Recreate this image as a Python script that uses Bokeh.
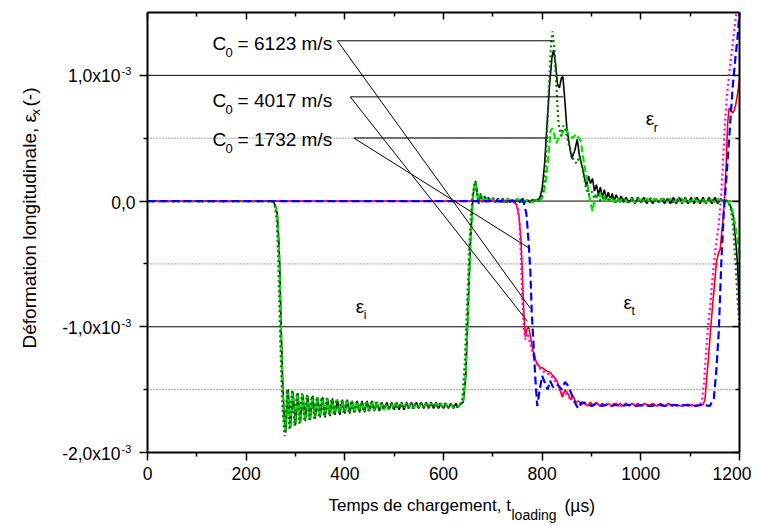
import math
from bokeh.plotting import figure
from bokeh.models import LinearAxis, FixedTicker, Label, ColumnDataSource, Range1d
from bokeh.embed import file_html
from bokeh.resources import INLINE

FONT = "Liberation Sans"

# ---------------- data (strain in units of 1e-3, time in microseconds) -------------
x_ticks = [0, 200, 400, 600, 800, 1000, 1200]
x_minor = [100, 300, 500, 700, 900, 1100]
y_ticks = [-2, -1, 0, 1]
y_minor = [-1.5, -0.5, 0.5]
y_tick_main = ["-2,0x10", "-1,0x10", "0,0", "1,0x10"]
y_tick_exp = ["-3", "-3", "", "-3"]
x_lim = (0, 1200)
y_lim = (-2, 1.5)

# incident + reflected, C0 = 4017 m/s (black solid)
black = [(0,0.00),(100,0.00),(200,0.00),(250,0.00),(256,-0.01),(260,-0.05),(263,-0.10),(266,-0.30),(268,-0.50),(271,-1.01),(274,-1.43),(277,-1.70),(280,-1.84),(285,-1.50),(290,-1.80),(295,-1.52),(300,-1.78),(305,-1.53),(310,-1.76),(315,-1.54),(320,-1.75),(325,-1.55),(330,-1.74),(335,-1.55),(340,-1.73),(345,-1.56),(350,-1.72),(355,-1.56),(360,-1.72),(365,-1.57),(370,-1.71),(375,-1.57),(380,-1.70),(385,-1.58),(390,-1.70),(395,-1.58),(400,-1.69),(405,-1.58),(410,-1.69),(415,-1.59),(420,-1.68),(425,-1.59),(430,-1.68),(435,-1.59),(440,-1.68),(445,-1.59),(450,-1.67),(455,-1.59),(460,-1.67),(465,-1.60),(470,-1.67),(475,-1.60),(480,-1.66),(485,-1.60),(490,-1.66),(495,-1.60),(500,-1.66),(505,-1.60),(510,-1.66),(515,-1.60),(520,-1.66),(525,-1.60),(530,-1.65),(535,-1.60),(540,-1.65),(545,-1.60),(550,-1.65),(555,-1.60),(560,-1.65),(565,-1.60),(570,-1.65),(575,-1.60),(580,-1.65),(585,-1.60),(590,-1.65),(595,-1.61),(600,-1.65),(605,-1.61),(610,-1.65),(615,-1.61),(620,-1.65),(625,-1.61),(630,-1.64),(635,-1.61),(640,-1.60),(645,-1.40),(650,-0.85),(655,-0.30),(660,0.05),(665,0.16),(668,0.08),(671,-0.02),(675,0.06),(679,-0.01),(683,0.04),(687,-0.01),(691,0.03),(695,0.00),(700,0.02),(705,-0.01),(710,0.02),(715,-0.01),(720,0.02),(725,-0.01),(730,0.02),(735,-0.01),(740,0.01),(745,-0.01),(750,0.01),(755,-0.01),(760,0.02),(765,-0.01),(770,0.01),(775,-0.01),(780,0.01),(785,0.00),(790,0.01),(795,0.02),(800,0.10),(805,0.30),(810,0.62),(815,0.92),(820,1.15),(823,1.20),(827,1.10),(831,0.93),(835,0.90),(839,0.98),(842,0.99),(846,0.80),(850,0.58),(855,0.45),(860,0.34),(866,0.40),(871,0.49),(876,0.35),(882,0.26),(886,0.18),(890,0.12),(894,0.20),(898,0.14),(902,0.18),(906,0.08),(910,0.13),(914,0.05),(918,0.11),(922,0.03),(926,0.09),(930,0.02),(934,0.07),(938,0.01),(942,0.06),(946,0.00),(950,0.05),(955,0.00),(960,0.04),(965,-0.01),(970,0.03),(976,-0.01),(982,0.03),(988,-0.02),(994,0.03),(1000,-0.01),(1006,0.03),(1012,-0.02),(1018,0.02),(1024,-0.02),(1030,0.02),(1036,-0.01),(1042,0.02),(1048,-0.02),(1054,0.02),(1060,-0.02),(1066,0.03),(1072,-0.02),(1078,0.03),(1084,-0.02),(1090,0.03),(1096,-0.02),(1102,0.03),(1108,-0.02),(1114,0.03),(1120,-0.02),(1126,0.03),(1132,-0.02),(1138,0.03),(1144,-0.02),(1150,0.03),(1156,-0.02),(1162,0.02),(1168,-0.01),(1175,0.00),(1182,-0.04),(1188,-0.13),(1192,-0.30),(1196,-0.50),(1200,-0.90)]

# incident + reflected, C0 = 1732 m/s (light green dashed)
lime = [(0,0.00),(200,0.00),(255,0.00),(259,-0.03),(263,-0.12),(267,-0.45),(270,-0.95),(273,-1.40),(276,-1.72),(279,-1.82),(284,-1.52),(289,-1.80),(294,-1.51),(299,-1.77),(304,-1.53),(309,-1.76),(314,-1.54),(319,-1.74),(324,-1.55),(329,-1.74),(334,-1.56),(339,-1.72),(344,-1.56),(349,-1.71),(354,-1.57),(359,-1.71),(364,-1.57),(369,-1.70),(374,-1.58),(379,-1.69),(384,-1.58),(389,-1.69),(394,-1.59),(399,-1.68),(404,-1.59),(409,-1.68),(414,-1.59),(419,-1.68),(424,-1.60),(429,-1.67),(434,-1.60),(439,-1.67),(444,-1.60),(449,-1.67),(454,-1.60),(459,-1.66),(464,-1.60),(469,-1.66),(474,-1.61),(479,-1.66),(484,-1.61),(489,-1.66),(494,-1.61),(499,-1.65),(504,-1.61),(509,-1.65),(514,-1.61),(519,-1.65),(524,-1.61),(529,-1.65),(534,-1.61),(539,-1.65),(544,-1.61),(549,-1.64),(554,-1.61),(559,-1.64),(564,-1.61),(569,-1.64),(574,-1.61),(579,-1.64),(584,-1.61),(589,-1.64),(594,-1.61),(599,-1.64),(604,-1.61),(609,-1.64),(614,-1.61),(619,-1.64),(624,-1.62),(629,-1.64),(634,-1.62),(639,-1.61),(644,-1.45),(649,-0.95),(654,-0.40),(659,0.00),(664,0.15),(667,0.10),(670,0.00),(674,0.05),(678,0.00),(682,0.04),(686,0.00),(690,0.03),(695,0.00),(700,0.02),(710,0.01),(720,-0.01),(730,0.02),(740,-0.01),(750,0.02),(760,-0.01),(770,0.01),(780,-0.01),(790,0.01),(797,0.00),(802,0.05),(806,0.12),(810,0.25),(814,0.42),(817,0.56),(821,0.58),(825,0.52),(829,0.46),(833,0.50),(837,0.50),(842,0.55),(847,0.58),(852,0.54),(857,0.52),(862,0.50),(868,0.53),(873,0.51),(878,0.48),(884,0.32),(891,0.16),(897,0.00),(902,-0.08),(908,0.05),(913,0.02),(918,0.06),(923,0.00),(928,0.04),(934,0.00),(940,0.03),(946,-0.01),(952,0.03),(958,-0.01),(965,0.02),(972,-0.01),(980,0.02),(988,-0.01),(996,0.02),(1004,-0.01),(1012,0.02),(1020,-0.01),(1028,0.02),(1036,-0.01),(1044,0.02),(1052,-0.01),(1060,0.02),(1068,-0.01),(1076,0.02),(1084,-0.01),(1092,0.02),(1100,-0.01),(1108,0.02),(1116,-0.01),(1124,0.02),(1132,-0.01),(1140,0.02),(1148,-0.01),(1156,0.02),(1164,0.00),(1172,0.01),(1180,-0.02),(1186,-0.08),(1192,-0.20),(1198,-0.37),(1200,-0.42)]

# incident + reflected, C0 = 6123 m/s (dark green dotted)
dkgreen = [(0,0.00),(200,0.00),(254,0.00),(258,-0.04),(262,-0.15),(265,-0.45),(268,-0.95),(271,-1.35),(274,-1.68),(278,-1.87),(283,-1.50),(288,-1.82),(293,-1.50),(298,-1.79),(303,-1.52),(308,-1.77),(313,-1.53),(318,-1.75),(323,-1.54),(328,-1.74),(333,-1.55),(338,-1.73),(343,-1.56),(348,-1.72),(353,-1.56),(358,-1.71),(363,-1.57),(368,-1.70),(373,-1.58),(378,-1.70),(383,-1.58),(388,-1.69),(393,-1.59),(398,-1.69),(403,-1.59),(408,-1.68),(413,-1.59),(418,-1.68),(423,-1.60),(428,-1.67),(433,-1.60),(438,-1.67),(443,-1.60),(448,-1.67),(453,-1.60),(458,-1.66),(463,-1.60),(468,-1.66),(473,-1.61),(478,-1.66),(483,-1.61),(488,-1.65),(493,-1.61),(498,-1.65),(503,-1.61),(508,-1.65),(513,-1.61),(518,-1.65),(523,-1.61),(528,-1.65),(533,-1.61),(538,-1.65),(543,-1.61),(548,-1.64),(553,-1.61),(558,-1.64),(563,-1.61),(568,-1.64),(573,-1.61),(578,-1.64),(583,-1.61),(588,-1.64),(593,-1.61),(598,-1.64),(603,-1.61),(608,-1.64),(613,-1.61),(618,-1.64),(623,-1.62),(628,-1.64),(633,-1.62),(638,-1.58),(643,-1.30),(648,-0.80),(653,-0.30),(658,0.02),(663,0.15),(667,0.08),(671,-0.02),(675,0.05),(680,0.00),(685,0.03),(690,0.00),(700,0.02),(710,0.00),(720,0.01),(730,-0.01),(740,0.01),(750,0.00),(760,0.01),(770,-0.01),(780,0.01),(790,0.00),(798,0.02),(803,0.10),(807,0.30),(810,0.55),(814,0.95),(818,1.25),(821,1.35),(825,1.20),(829,0.90),(833,0.62),(838,0.52),(843,0.60),(848,0.56),(853,0.46),(858,0.40),(864,0.32),(870,0.30),(876,0.36),(882,0.25),(888,0.12),(894,0.05),(900,0.08),(906,0.02),(912,0.06),(918,0.00),(925,0.04),(932,0.00),(940,0.03),(950,-0.01),(960,0.02),(975,-0.01),(990,0.02),(1005,-0.01),(1020,0.02),(1035,-0.01),(1050,0.02),(1065,-0.01),(1080,0.02),(1095,-0.01),(1110,0.02),(1125,-0.01),(1140,0.02),(1155,-0.01),(1168,0.01),(1176,0.00),(1182,-0.05),(1187,-0.20),(1192,-0.50),(1196,-0.78),(1200,-1.00)]

# transmitted, red solid
red = [(0,0.00),(200,0.00),(400,0.00),(600,0.00),(700,0.00),(740,0.00),(748,-0.03),(753,-0.12),(757,-0.30),(760,-0.60),(763,-0.90),(766,-1.08),(769,-1.02),(773,-1.00),(777,-1.10),(782,-1.20),(788,-1.28),(795,-1.32),(802,-1.33),(808,-1.35),(815,-1.36),(822,-1.39),(830,-1.43),(836,-1.50),(841,-1.56),(846,-1.50),(852,-1.53),(858,-1.58),(863,-1.55),(868,-1.60),(874,-1.59),(880,-1.62),(886,-1.60),(892,-1.63),(898,-1.60),(904,-1.63),(910,-1.60),(916,-1.63),(922,-1.61),(928,-1.63),(934,-1.61),(940,-1.63),(946,-1.61),(952,-1.63),(958,-1.61),(964,-1.63),(970,-1.61),(976,-1.63),(982,-1.61),(988,-1.63),(994,-1.61),(1000,-1.63),(1008,-1.61),(1016,-1.63),(1024,-1.61),(1032,-1.63),(1040,-1.61),(1048,-1.63),(1056,-1.61),(1064,-1.63),(1072,-1.62),(1080,-1.63),(1088,-1.62),(1096,-1.63),(1104,-1.62),(1112,-1.63),(1120,-1.62),(1126,-1.62),(1130,-1.58),(1133,-1.43),(1137,-1.25),(1141,-1.04),(1145,-0.85),(1148,-0.72),(1153,-0.49),(1157,-0.42),(1161,-0.38),(1164,-0.25),(1167,-0.13),(1170,0.05),(1173,0.30),(1176,0.62),(1179,0.74),(1183,0.72),(1186,0.70),(1189,0.72),(1192,0.76),(1196,0.85),(1200,0.97)]

# transmitted, magenta dotted
magenta = [(0,0.00),(200,0.00),(400,0.00),(600,0.00),(700,0.00),(744,0.00),(750,-0.04),(754,-0.18),(757,-0.45),(760,-0.80),(763,-1.02),(766,-1.10),(770,-1.05),(775,-1.12),(780,-1.20),(786,-1.27),(793,-1.32),(800,-1.35),(808,-1.37),(816,-1.38),(824,-1.42),(832,-1.47),(838,-1.53),(844,-1.52),(850,-1.54),(856,-1.57),(862,-1.56),(868,-1.60),(875,-1.60),(882,-1.62),(890,-1.61),(900,-1.63),(910,-1.61),(920,-1.63),(930,-1.61),(940,-1.63),(950,-1.61),(960,-1.63),(970,-1.61),(980,-1.63),(990,-1.61),(1000,-1.63),(1010,-1.62),(1020,-1.63),(1030,-1.62),(1040,-1.63),(1050,-1.62),(1060,-1.63),(1070,-1.62),(1080,-1.63),(1090,-1.62),(1100,-1.63),(1110,-1.62),(1120,-1.62),(1124,-1.58),(1128,-1.45),(1132,-1.22),(1136,-1.00),(1141,-0.82),(1146,-0.58),(1152,-0.36),(1158,-0.18),(1163,0.05),(1167,0.35),(1171,0.65),(1176,0.90),(1181,1.08),(1186,1.25),(1190,1.38),(1194,1.50)]

# transmitted, blue dashed
blue = [(0,0.00),(200,0.00),(400,0.00),(600,0.00),(700,0.00),(762,0.00),(768,-0.10),(772,-0.30),(776,-0.55),(779,-0.90),(782,-1.10),(786,-1.40),(790,-1.63),(795,-1.50),(800,-1.39),(806,-1.45),(811,-1.50),(816,-1.43),(822,-1.48),(831,-1.46),(840,-1.50),(846,-1.44),(851,-1.46),(858,-1.52),(866,-1.60),(873,-1.65),(880,-1.60),(891,-1.61),(900,-1.63),(910,-1.61),(920,-1.63),(930,-1.62),(940,-1.63),(950,-1.62),(960,-1.63),(975,-1.62),(990,-1.63),(1005,-1.62),(1020,-1.63),(1035,-1.62),(1050,-1.63),(1065,-1.62),(1080,-1.63),(1095,-1.62),(1110,-1.63),(1125,-1.62),(1140,-1.63),(1148,-1.57),(1153,-1.35),(1158,-1.04),(1163,-0.50),(1168,-0.10),(1173,0.16),(1180,0.55),(1186,0.90),(1192,1.15),(1196,1.30),(1200,1.50)]

# annotations: wave speeds and pointer anchors (data coordinates)
speeds = ["6123", "4017", "1732"]
speed_text_t = [132, 132, 132]
speed_text_y = [1.195, 0.741, 0.438]
anchor_t = [385, 411, 418]
anchor_y = [1.275, 0.829, 0.502]
refl_t = [821, 843, 813]
trans_t = [776, 770, 776]
trans_y = [-0.853, -0.956, -0.38]

wave_sub = ["i", "r", "t"]
wave_t = [422, 1010, 965]
wave_y = [-0.892, 0.598, -0.861]

# ---------------- layout geometry (canvas pixels) -------------
W, H = 751, 524
FL, FR, FT, FB = 147, 739, 12, 452          # plotting box inside the canvas
kx = (x_lim[1] - x_lim[0]) / (FR - FL)
ky = (y_lim[1] - y_lim[0]) / (FB - FT)
xr = Range1d(x_lim[0] - FL * kx, x_lim[1] + (W - FR) * kx)
yr_ = Range1d(y_lim[0] - (H - FB) * ky, y_lim[1] + FT * ky)

p = figure(width=W, height=H, x_range=xr, y_range=yr_,
           output_backend="svg", toolbar_location=None,
           x_axis_location=None, y_axis_location=None, min_border=0)
p.outline_line_color = None
p.background_fill_color = "white"
p.border_fill_color = "white"
p.xgrid.visible = False
p.ygrid.visible = False

def style_axis(ax, labels=True, out=True):
    ax.axis_line_width = 2
    ax.axis_line_color = "black"
    ax.major_tick_line_width = 1.5
    ax.minor_tick_line_width = 1.5
    ax.major_tick_line_color = "black"
    ax.minor_tick_line_color = "black"
    if out:
        ax.major_tick_out, ax.major_tick_in = 8, 0
        ax.minor_tick_out, ax.minor_tick_in = 4, 0
    else:
        ax.major_tick_out, ax.major_tick_in = 0, 7
        ax.minor_tick_out, ax.minor_tick_in = 0, 4
    ax.major_label_text_font = FONT
    ax.major_label_text_font_size = "17.5px"
    ax.major_label_text_color = "black"
    if not labels:
        ax.major_label_overrides = {t: "" for t in ax.ticker.ticks}

xb = LinearAxis(ticker=FixedTicker(ticks=x_ticks, minor_ticks=x_minor), fixed_location=y_lim[0], bounds=x_lim)
style_axis(xb)
xb.major_label_standoff = 6
p.add_layout(xb, "below")
xt = LinearAxis(ticker=FixedTicker(ticks=x_ticks, minor_ticks=x_minor), fixed_location=y_lim[1], bounds=x_lim)
style_axis(xt, labels=False, out=False)
p.add_layout(xt, "above")
yl = LinearAxis(ticker=FixedTicker(ticks=y_ticks, minor_ticks=y_minor), fixed_location=x_lim[0], bounds=y_lim)
style_axis(yl, labels=False, out=True)
p.add_layout(yl, "left")
yrr = LinearAxis(ticker=FixedTicker(ticks=y_ticks, minor_ticks=y_minor), fixed_location=x_lim[1], bounds=y_lim)
style_axis(yrr, labels=False, out=False)
p.add_layout(yrr, "right")

# horizontal grid lines at the y ticks (inside the plotting box)
gmaj = [t for t in y_ticks if y_lim[0] < t < y_lim[1]]
p.segment(x0=[x_lim[0]] * len(gmaj), x1=[x_lim[1]] * len(gmaj), y0=gmaj, y1=gmaj,
          line_color="black", line_width=1, level="underlay")
p.segment(x0=[x_lim[0]] * len(y_minor), x1=[x_lim[1]] * len(y_minor), y0=y_minor, y1=y_minor,
          line_color="#444444", line_width=1, line_dash="1 2", level="underlay")

def src(pairs):
    return ColumnDataSource(dict(t=[a for a, b in pairs], v=[b for a, b in pairs]))

p.line("t", "v", source=src(black), line_color="black", line_width=1.6)
p.line("t", "v", source=src(lime), line_color="#00e600", line_width=2.2, line_dash="7 3")
p.line("t", "v", source=src(dkgreen), line_color="#008000", line_width=2.2, line_dash="2 3")
p.line("t", "v", source=src(red), line_color="#ff0000", line_width=1.6)
p.line("t", "v", source=src(magenta), line_color="#ff00ff", line_width=2.2, line_dash="2 3")
p.line("t", "v", source=src(blue), line_color="#0000ff", line_width=2.2, line_dash="8 4")

# pointer lines
p.segment(x0=anchor_t, y0=anchor_y, x1=refl_t, y1=anchor_y, line_color="black", line_width=1)
p.segment(x0=anchor_t, y0=anchor_y, x1=trans_t, y1=trans_y, line_color="black", line_width=1)

def lab(**kw):
    base = dict(text_font=FONT, text_color="black", text_baseline="middle")
    base.update(kw)
    p.add_layout(Label(**base))

# texts are anchored on their vertical middle; offsets place the letter baselines
for s, tt, yy in zip(speeds, speed_text_t, speed_text_y):
    lab(x=tt, y=yy, text="C", text_font_size="19px", y_offset=7)
    lab(x=tt, y=yy, text="0", text_font_size="13px", x_offset=13, y_offset=-2)
    lab(x=tt, y=yy, text="= " + s + " m/s", text_font_size="19px", x_offset=25, y_offset=7)

for s, tt, yy in zip(wave_sub, wave_t, wave_y):
    lab(x=tt, y=yy, text="\u03b5", text_font_size="19px", y_offset=7)
    lab(x=tt, y=yy, text=s, text_font_size="12px", x_offset=8, y_offset=-2)

# y tick labels with superscript exponent (x in canvas pixels)
for tk, m, e in zip(y_ticks, y_tick_main, y_tick_exp):
    if e:
        lab(x=120, y=tk, x_units="screen", text=m, text_font_size="17.5px",
            text_align="right", y_offset=-1)
        lab(x=121, y=tk, x_units="screen", text=e, text_font_size="11px",
            text_align="left", y_offset=4)
    else:
        lab(x=135, y=tk, x_units="screen", text=m, text_font_size="17.5px",
            text_align="right", y_offset=-1)

# x axis title with subscript (canvas pixels, y measured from the bottom)
lab(x=328, y=H - 505, x_units="screen", y_units="screen", text="Temps de chargement, t",
    text_font_size="17px")
lab(x=511, y=H - 514, x_units="screen", y_units="screen", text="loading",
    text_font_size="14px")
lab(x=564, y=H - 505, x_units="screen", y_units="screen", text="(\u00b5s)",
    text_font_size="17.5px")

# y axis title with subscript (rotated)
lab(x=29, y=H - 348, x_units="screen", y_units="screen", text="D\u00e9formation longitudinale, \u03b5",
    text_font_size="19px", angle=math.pi / 2)
lab(x=35, y=H - 115, x_units="screen", y_units="screen", text="x",
    text_font_size="13px", angle=math.pi / 2)
lab(x=29, y=H - 106, x_units="screen", y_units="screen", text="(-)",
    text_font_size="19px", angle=math.pi / 2)

open("out.html", "w").write(file_html(p, INLINE))
